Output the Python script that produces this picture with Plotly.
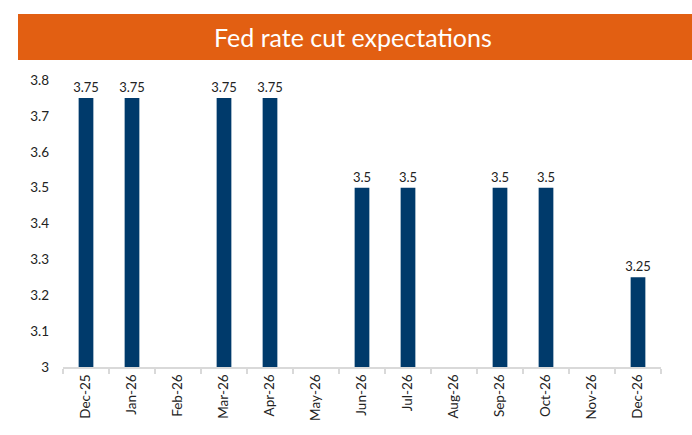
import plotly.graph_objects as go

months = ["Dec-25", "Jan-26", "Feb-26", "Mar-26", "Apr-26", "May-26", "Jun-26",
          "Jul-26", "Aug-26", "Sep-26", "Oct-26", "Nov-26", "Dec-26"]
rates = [3.75, 3.75, None, 3.75, 3.75, None, 3.5, 3.5, None, 3.5, 3.5, None, 3.25]
labels = ["" if v is None else f"{v:g}" for v in rates]
title_text = "Fed rate cut expectations"

FONT = "Lato, Open Sans, sans-serif"

fig = go.Figure(go.Bar(
    x=months, y=rates, width=0.32,
    marker=dict(color="#003A6B", line=dict(width=0)),
    text=labels, textposition="outside", cliponaxis=False,
    constraintext="none",
    textfont=dict(family=FONT, size=13, color="#222222"),
))

L, R, T, B = 63, 31, 73, 68
W, H = 692, 435
pw, ph = W - L - R, H - T - B

def px_x(x):
    return (x - L) / pw

def px_y(y):
    return 1 + (T - y) / ph

fig.add_shape(type="rect", xref="paper", yref="paper",
              x0=px_x(18), x1=px_x(692), y0=px_y(60), y1=px_y(14),
              fillcolor="#E25F12", line=dict(width=0), layer="below")
fig.add_annotation(xref="paper", yref="paper", x=px_x(353), y=px_y(37),
                   xanchor="center", yanchor="middle",
                   text=title_text, showarrow=False,
                   font=dict(family=FONT, size=25, color="white"))

fig.update_layout(
    width=W, height=H,
    margin=dict(l=L, r=R, t=T, b=B, autoexpand=False),
    paper_bgcolor="white", plot_bgcolor="white",
    showlegend=False,
    font=dict(family=FONT, size=13, color="#222222"),
)
fig.update_xaxes(type="category", tickangle=-90, showgrid=False, automargin=False,
                 showline=True, linecolor="#D9D9D9", linewidth=2,
                 ticks="outside", tickson="boundaries", ticklen=5,
                 tickcolor="#D9D9D9", tickwidth=1.5,
                 tickfont=dict(family=FONT, size=13.5, color="#222222"))
fig.update_yaxes(range=[3, 3.82], tickvals=[3, 3.1, 3.2, 3.3, 3.4, 3.5, 3.6, 3.7, 3.8],
                 ticktext=["3", "3.1", "3.2", "3.3", "3.4", "3.5", "3.6", "3.7", "3.8"],
                 showgrid=False, zeroline=False, showline=False, ticks="",
                 automargin=False, ticklabelstandoff=13,
                 tickfont=dict(family=FONT, size=13.5, color="#222222"))

fig.write_html("out.html", config={"displayModeBar": False},
               post_script="document.body.style.margin='0';document.body.style.overflow='hidden';")
